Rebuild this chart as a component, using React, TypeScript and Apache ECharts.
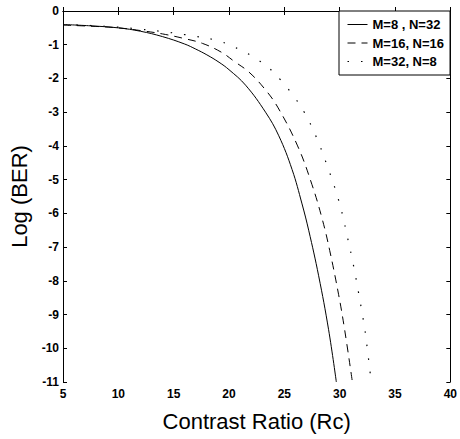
import React, { useEffect, useRef } from "react";
import * as echarts from "echarts";

const seriesNames = ["M=8 , N=32", "M=16, N=16", "M=32, N=8"];

// M=8, N=32 (solid)
const solidX = [5, 7.5, 10, 12, 14, 16, 17, 18, 19.1, 20, 21.5, 23.3, 24.5, 25.7, 26.6, 27.2, 28.1, 29.0, 29.7];
const solidY = [-0.40, -0.44, -0.50, -0.60, -0.76, -0.98, -1.13, -1.30, -1.52, -1.74, -2.20, -3.0, -3.70, -4.70, -5.72, -6.5, -7.85, -9.45, -11];

// M=16, N=16 (dashed)
const dashX = [5, 7.5, 10, 12, 14, 16, 17.6, 19.3, 20.5, 21.8, 23.2, 24.4, 26.2, 27.5, 28.45, 29.1, 29.9, 30.45, 31.15];
const dashY = [-0.42, -0.45, -0.50, -0.58, -0.68, -0.82, -0.96, -1.22, -1.50, -1.81, -2.30, -2.85, -4.0, -5.15, -6.2, -7.1, -8.4, -9.45, -11];

// M=32, N=8 (dotted)
const dotX = [5, 7.5, 10, 12, 14, 16, 18.9, 20, 21, 22, 23.5, 24.7, 25.9, 26.8, 27.5, 28.25, 28.8, 29.4, 29.9, 30.3, 30.6, 31.1, 31.4, 31.7, 32.0, 32.3, 32.85];
const dotY = [-0.40, -0.43, -0.48, -0.54, -0.61, -0.70, -0.87, -1.00, -1.15, -1.32, -1.66, -2.06, -2.55, -3.0, -3.45, -4.03, -4.52, -5.08, -5.6, -6.1, -6.55, -7.3, -7.8, -8.34, -8.9, -9.5, -11];

const xMin = 5, xMax = 40, xStep = 5;
const yMin = -11, yMax = 0, yStep = 1;

const FONT = "Liberation Sans, Arial, Helvetica, sans-serif";

const pairs = (xs: number[], ys: number[]) => xs.map((x, i) => [x, ys[i]]);

export default function App() {
  const ref = useRef<HTMLDivElement>(null);
  useEffect(() => {
    if (!ref.current) return;
    const chart = echarts.init(ref.current, null, { renderer: "svg" });
    const axisLine = { show: true, lineStyle: { color: "#000", width: 1 } };
    const tick = { show: true, inside: true, length: 4, lineStyle: { color: "#000", width: 1 } };
    const lbl = { color: "#000", fontSize: 12, fontWeight: "bold", fontFamily: FONT };
    chart.setOption({
      animation: false,
      backgroundColor: "#fff",
      grid: { left: 63, right: 7, top: 11, bottom: 57, containLabel: false },
      legend: {
        data: seriesNames,
        orient: "vertical",
        left: 339,
        top: 11,
        padding: [7, 6, 7, 8],
        itemWidth: 20,
        itemHeight: 12,
        itemGap: 5.5,
        borderColor: "#000",
        borderWidth: 1,
        backgroundColor: "#fff",
        itemStyle: { opacity: 0 },
        lineStyle: { width: 1 },
        textStyle: { color: "#000", fontSize: 13, fontWeight: "bold", fontFamily: FONT },
      },
      xAxis: [
        {
          type: "value", min: xMin, max: xMax, interval: xStep, position: "bottom",
          axisLine, axisTick: tick, splitLine: { show: false },
          axisLabel: { ...lbl, margin: 6 },
          name: "Contrast Ratio (Rc)", nameLocation: "middle", nameGap: 28,
          nameTextStyle: { color: "#000", fontSize: 22, fontFamily: FONT },
        },
        {
          type: "value", min: xMin, max: xMax, interval: xStep, position: "top",
          axisLine, axisTick: tick, splitLine: { show: false }, axisLabel: { show: false },
        },
      ],
      yAxis: [
        {
          type: "value", min: yMin, max: yMax, interval: yStep, position: "left",
          axisLine, axisTick: tick, splitLine: { show: false },
          axisLabel: { ...lbl, margin: 4 },
          name: "Log (BER)", nameLocation: "middle", nameGap: 32, nameRotate: 90,
          nameTextStyle: { color: "#000", fontSize: 22, fontFamily: FONT },
        },
        {
          type: "value", min: yMin, max: yMax, interval: yStep, position: "right",
          axisLine, axisTick: tick, splitLine: { show: false }, axisLabel: { show: false },
        },
      ],
      series: [
        {
          name: seriesNames[0], type: "line", data: pairs(solidX, solidY),
          symbol: "none", showSymbol: false, smooth: 0.4,
          lineStyle: { color: "#000", width: 1, type: "solid" }, itemStyle: { color: "#000" },
        },
        {
          name: seriesNames[1], type: "line", data: pairs(dashX, dashY),
          symbol: "none", showSymbol: false, smooth: 0.4,
          lineStyle: { color: "#000", width: 1, type: [8, 6] }, itemStyle: { color: "#000" },
        },
        {
          name: seriesNames[2], type: "line", data: pairs(dotX, dotY),
          symbol: "none", showSymbol: false, smooth: 0.4,
          lineStyle: { color: "#000", width: 1.2, type: [1.5, 12] }, itemStyle: { color: "#000" },
        },
      ],
    });
    return () => chart.dispose();
  }, []);
  return (
    <div
      ref={ref}
      style={{ position: "fixed", left: 0, top: 0, width: 460, height: 439, background: "#fff" }}
    />
  );
}
